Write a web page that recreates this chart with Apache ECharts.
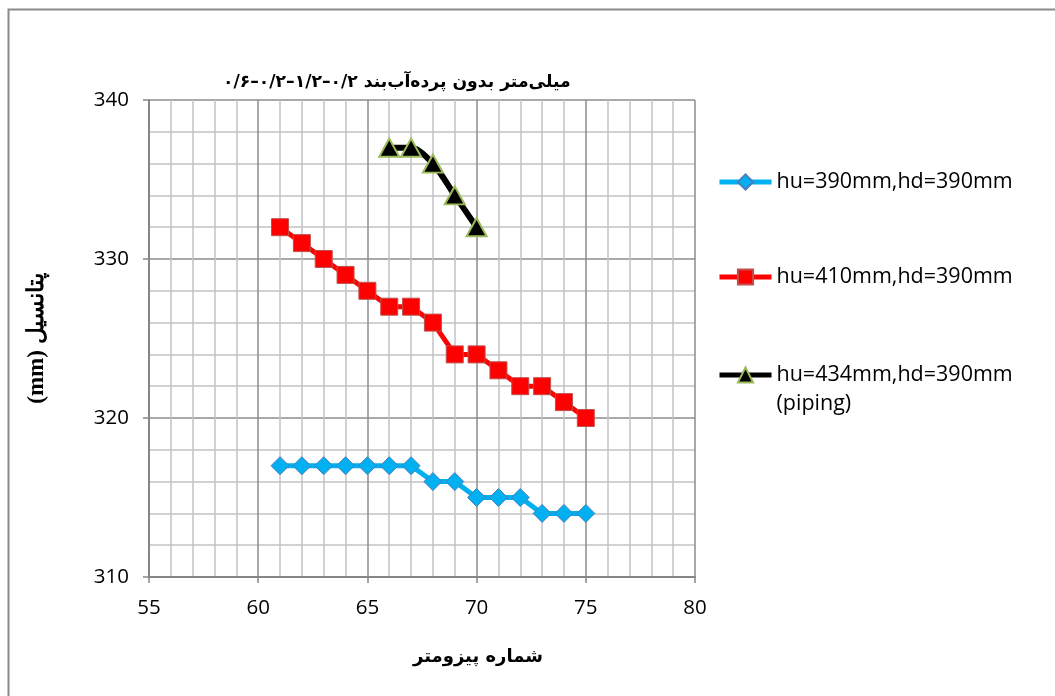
<!DOCTYPE html>
<html>
<head>
<meta charset="utf-8">
<script src="https://cdn.jsdelivr.net/npm/echarts@6/dist/echarts.min.js"></script>
<style>
html,body{margin:0;padding:0;background:#fff;}
#chart{width:1055px;height:696px;}
</style>
</head>
<body>
<div id="chart"></div>
<script>
const titleText = '۰/۶–۰/۲–۱/۲–۰/۲ میلی‌متر بدون پرده‌آب‌بند';
const xAxisName = 'شماره پیزومتر';
const yAxisName = '(mm) پتانسیل';
const seriesNames = ['hu=390mm,hd=390mm', 'hu=410mm,hd=390mm', 'hu=434mm,hd=390mm\n(piping)'];

const xBlue = [61,62,63,64,65,66,67,68,69,70,71,72,73,74,75];
const yBlue = [317,317,317,317,317,317,317,316,316,315,315,315,314,314,314];
const xRed  = [61,62,63,64,65,66,67,68,69,70,71,72,73,74,75];
const yRed  = [332,331,330,329,328,327,327,326,324,324,323,322,322,321,320];
const xBlack = [66,67,68,69,70];
const yBlack = [337,337,336,334,332];

const xTicks = [55,60,65,70,75,80];
const yTicks = [310,320,330,340];

function pairs(xs, ys){ return xs.map((x,i)=>[x, ys[i]]); }

const chart = echarts.init(document.getElementById('chart'), null, {renderer:'canvas'});
const labelFont = '"Open Sans", Lato, sans-serif';
const arFont = '"DejaVu Sans", sans-serif';

function legendFor(name, top, threeLine){
  return {
    data:[name], left:717, top:top, padding:0, orient:'vertical',
    itemWidth:52, itemHeight:19, itemGap:5, selectedMode:false,
    lineStyle:{width:5},
    formatter: threeLine ? function(n){ return ' \n' + n; } : undefined,
    textStyle:{fontFamily:labelFont, fontSize:21.5, color:'#000', lineHeight:29}
  };
}

chart.setOption({
  animation:false,
  backgroundColor:'#fff',
  title:{
    text:titleText, left:218, top:69,
    textStyle:{fontFamily:arFont, fontWeight:'bold', fontSize:17.2, color:'#000'}
  },
  legend:[
    legendFor(seriesNames[0], 182-14.5, false),
    legendFor(seriesNames[1], 277-14.5, false),
    legendFor(seriesNames[2], 375-43.5, true)
  ],
  grid:{left:149, right:360, top:100, bottom:119, containLabel:false},
  xAxis:{
    type:'value', min:xTicks[0], max:xTicks[xTicks.length-1], interval:5,
    name:xAxisName, nameLocation:'middle', nameGap:71,
    nameTextStyle:{fontFamily:arFont, fontWeight:'bold', fontSize:18, color:'#000', padding:[0,0,0,112]},
    axisLine:{show:true, onZero:false, lineStyle:{color:'#868686', width:2}},
    axisTick:{show:true, inside:false, length:6, lineStyle:{color:'#868686', width:1.5}},
    axisLabel:{fontFamily:labelFont, fontSize:20.5, color:'#000', margin:21},
    splitLine:{show:true, lineStyle:{color:'#8C8C8C', width:1.5}},
    minorTick:{show:false, splitNumber:5},
    minorSplitLine:{show:true, lineStyle:{color:'#C4C4C4', width:1.5}}
  },
  yAxis:{
    type:'value', min:yTicks[0], max:yTicks[yTicks.length-1], interval:10,
    name:yAxisName, nameLocation:'middle', nameGap:100, nameRotate:90,
    nameTextStyle:{fontFamily:'"Liberation Serif", serif', fontWeight:'bold', fontSize:23, color:'#000'},
    axisLine:{show:true, onZero:false, lineStyle:{color:'#868686', width:2}},
    axisTick:{show:true, inside:false, length:6, lineStyle:{color:'#868686', width:1.5}},
    axisLabel:{fontFamily:labelFont, fontSize:20.5, color:'#000', margin:20},
    splitLine:{show:true, lineStyle:{color:'#8C8C8C', width:1.5}},
    minorTick:{show:false, splitNumber:5},
    minorSplitLine:{show:true, lineStyle:{color:'#C4C4C4', width:1.5}}
  },
  graphic:[{
    type:'rect', silent:true, z:-1,
    shape:{x:8.5, y:9.5, width:1200, height:900},
    style:{fill:null, stroke:'#8A8A8A', lineWidth:2}
  }],
  series:[
    {
      name:seriesNames[0], type:'line', data:pairs(xBlue,yBlue),
      symbol:'diamond', symbolSize:18,
      lineStyle:{color:'#00B0F0', width:5},
      itemStyle:{color:'#00B0F0', borderColor:'#4A7EBB', borderWidth:1}
    },
    {
      name:seriesNames[1], type:'line', data:pairs(xRed,yRed),
      symbol:'rect', symbolSize:17,
      lineStyle:{color:'#FF0000', width:5},
      itemStyle:{color:'#FF0000', borderColor:'#C0504D', borderWidth:1}
    },
    {
      name:seriesNames[2], type:'line', data:pairs(xBlack,yBlack),
      symbol:'triangle', symbolSize:[20,18], smooth:0.3,
      lineStyle:{color:'#000000', width:6},
      itemStyle:{color:'#000000', borderColor:'#9BBB59', borderWidth:2}
    }
  ]
});
</script>
</body>
</html>
